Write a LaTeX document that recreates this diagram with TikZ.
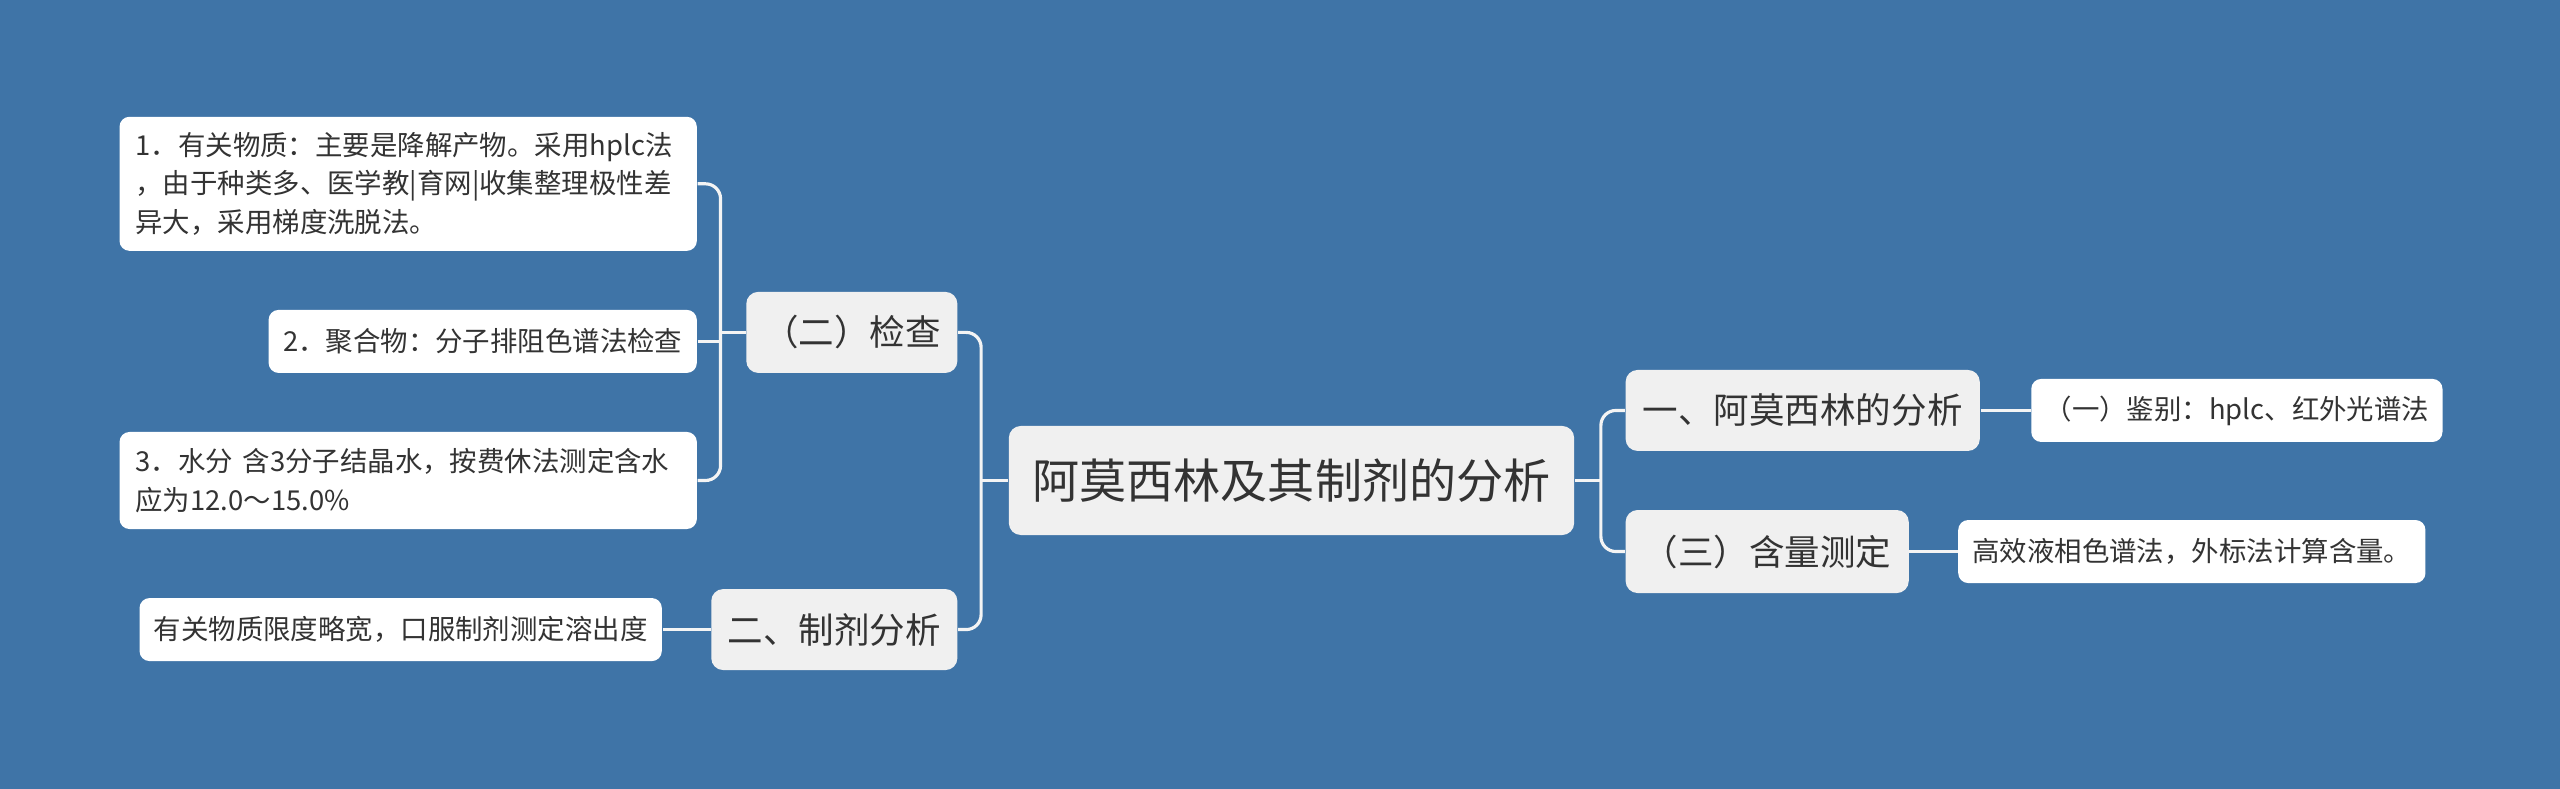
\documentclass[tikz,border=0pt]{standalone}
\usepackage{fontspec}
\setmainfont{Noto Sans CJK SC}
\usepackage{tikz}
\usetikzlibrary{positioning}
\definecolor{BgBlue}{HTML}{3F74A7}
\definecolor{NodeGray}{HTML}{F0F0F0}
\definecolor{InkGray}{HTML}{333333}
\definecolor{LinkLine}{HTML}{F4F4F4}

\begin{document}
\begin{tikzpicture}[
    x=0.01cm, y=-0.01cm,
    topic/.style={
        rectangle, rounded corners=0.12cm, fill=NodeGray, text=InkGray,
        font=\fontsize{13.4}{16}\selectfont, inner sep=0pt,
        minimum width=5.65cm, minimum height=1.09cm
    },
    branch/.style={
        rectangle, rounded corners=0.12cm, fill=NodeGray, text=InkGray,
        font=\fontsize{10.1}{12}\selectfont, inner sep=0pt,
        minimum height=0.81cm
    },
    leaf/.style={
        rectangle, rounded corners=0.1cm, fill=white, text=InkGray,
        font=\fontsize{7.8}{10.9}\selectfont, inner sep=0pt,
        align=left, minimum height=0.63cm
    },
    note/.style={leaf, inner xsep=0.16cm, text width=5.45cm},
    link/.style={draw=LinkLine, line width=0.9pt, rounded corners=0.15cm}
]

% background
\fill[BgBlue] (0,0) rectangle (2560,789);

% ===================================================================
% ROOT
% ===================================================================
\node[topic] (root) at (1291.5,480.5) {阿莫西林及其制剂的分析};

% ===================================================================
% RIGHT BRANCHES
% ===================================================================
\node[branch, minimum width=3.54cm, right=0.50cm of root, yshift=0.70cm] (ana)
    {一、阿莫西林的分析};
\node[leaf, minimum width=4.11cm, right=0.50cm of ana] (idn)
    {（一）鉴别：hplc、红外光谱法};

\node[branch, minimum width=2.83cm, minimum height=0.83cm,
      right=0.50cm of root, yshift=-0.71cm] (qty)
    {（三）含量测定};
\node[leaf, minimum width=4.67cm, right=0.48cm of qty] (hplc)
    {高效液相色谱法，外标法计算含量。};

\coordinate[right=0.26cm of root] (jr);
\draw[link] (root.east) -- (jr);
\draw[link] (ana.west) -| (jr) |- (qty.west);
\draw[link] (ana) -- (idn);
\draw[link] (qty) -- (hplc);

% ===================================================================
% LEFT BRANCHES
% ===================================================================
\node[branch, minimum width=2.11cm, left=0.50cm of root, yshift=1.48cm] (chk)
    {（二）检查};
\node[branch, minimum width=2.46cm, left=0.50cm of root, yshift=-1.49cm] (mfg)
    {二、制剂分析};

\coordinate[left=0.27cm of root] (jl);
\draw[link] (root.west) -- (jl);
\draw[link] (chk.east) -| (jl) |- (mfg.east);

% checks
\node[note, minimum height=1.34cm, left=0.48cm of chk, yshift=1.485cm] (p1)
    {1．有关物质：主要是降解产物。采用hplc法\\
     ，由于种类多、医学教|育网|收集整理极性差\\
     异大，采用梯度洗脱法。};
\node[leaf, minimum width=4.28cm, left=0.48cm of chk, yshift=-0.09cm] (p2)
    {2．聚合物：分子排阻色谱法检查};
\node[note, minimum height=0.97cm, left=0.48cm of chk, yshift=-1.48cm] (p3)
    {3．水分\hspace{0.35em}含3分子结晶水，按费休法测定含水\\
     应为12.0～15.0\%};

\coordinate[left=0.25cm of chk] (jc);
\draw[link] (chk.west) -- (jc);
\draw[link] (p1.east) -| (jc) |- (p3.east);
\draw[link] (p2.east) -- (p2.east -| jc);

% preparations
\node[leaf, minimum width=5.22cm, left=0.48cm of mfg] (dis)
    {有关物质限度略宽，口服制剂测定溶出度};
\draw[link] (mfg) -- (dis);

\end{tikzpicture}
\end{document}
